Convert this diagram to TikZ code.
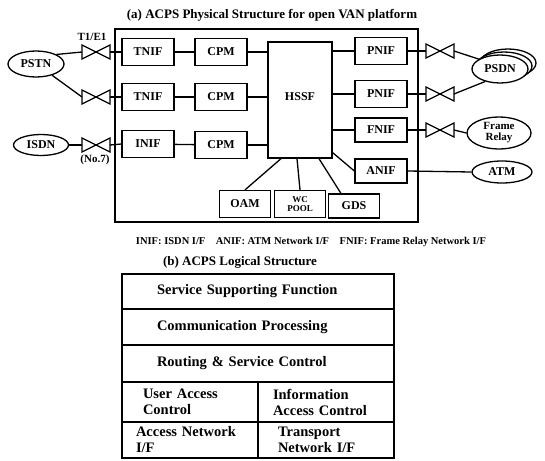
\documentclass[tikz,border=0pt]{standalone}
\usepackage{fontspec}
\setmainfont{Liberation Serif}
\usetikzlibrary{shapes.geometric,calc}
\tikzset{
  valve/.pic={
    \draw[fill=white] (-14,-7) -- (-14,7) -- (0,0) -- cycle;
    \draw[fill=white] (14,-7) -- (14,7) -- (0,0) -- cycle;
    \coordinate (-w) at (-14,0);
    \coordinate (-e) at (14,0);
  }
}
\begin{document}
\begin{tikzpicture}[x=1pt,y=-1pt,line width=1.3pt,
  fbox/.style={draw,fill=white,minimum width=52pt,minimum height=27pt,inner sep=1pt,font=\bfseries\fontsize{12}{13}\selectfont},
  blob/.style={draw,ellipse,fill=white,inner sep=1pt,font=\bfseries\fontsize{12}{12}\selectfont},
  lbl/.style={font=\bfseries\fontsize{11}{12}\selectfont},
  ttl/.style={font=\bfseries\fontsize{13}{14}\selectfont},
  row/.style={draw,minimum width=272pt,text width=202pt,inner xsep=35pt,align=left,font=\bfseries\fontsize{14.5}{16}\selectfont},
  cell/.style={draw,minimum width=136pt,align=left,font=\bfseries\fontsize{14.5}{16}\selectfont}
]
\useasboundingbox (0,0) rectangle (545,460);

% ---------- (a) ----------
\node[ttl] (ta) at (272,15) {(a) ACPS Physical  Structure for open VAN platform};
\draw (115,29) rectangle (418,222);

\node[fbox] (tnif1) at (148,52) {TNIF};
\node[fbox] (cpm1) at (221,52) {CPM};
\node[fbox] (tnif2) at (148,97) {TNIF};
\node[fbox] (cpm2) at (221,97) {CPM};
\node[fbox] (inif) at (148,144) {INIF};
\node[fbox] (cpm3) at (221,145) {CPM};
\node[fbox,minimum width=64pt,minimum height=116pt] (hssf) at (300,100) {\raisebox{6pt}{HSSF}};

\node[fbox] (pnif1) at (381,51) {PNIF};
\node[fbox] (pnif2) at (381,94) {PNIF};
\node[fbox,minimum height=24pt] (fnif) at (381,130) {FNIF};
\node[fbox,minimum height=24pt] (anif) at (381,171) {ANIF};

\node[fbox,minimum width=51pt] (oam) at (245,204) {OAM};
\node[fbox,minimum width=51pt,align=center,font=\bfseries\fontsize{9}{9}\selectfont] (wc) at (300,204) {WC\\POOL};
\node[fbox,minimum width=51pt,minimum height=24pt] (gds) at (354,206) {GDS};

% left side
\node[blob,minimum width=56pt,minimum height=26pt] (pstn) at (36,64) {PSTN};
\node[blob,minimum width=55pt,minimum height=21pt] (isdn) at (41,145) {ISDN};
\pic (lv1) at (96,52) {valve};
\pic (lv2) at (96,97) {valve};
\pic (lv3) at (96,145) {valve};
\node[lbl] (t1e1) at (92,37) {T1/E1};
\node[lbl] (no7) at (95,160) {(No.7)};

% right side
\node[blob,minimum width=56pt,minimum height=28pt] (psdnc) at (508,63) {};
\node[blob,minimum width=56pt,minimum height=28pt] (psdnb) at (504,66) {};
\node[blob,minimum width=56pt,minimum height=28pt] (psdn) at (500,69) {PSDN};
\node[blob,minimum width=64pt,minimum height=31pt,align=center,font=\bfseries\fontsize{11}{11}\selectfont] (fr) at (499,133) {Frame\\Relay};
\node[blob,minimum width=60pt,minimum height=22pt] (atm) at (502,172) {ATM};
\pic (rv1) at (440,51) {valve};
\pic (rv2) at (440,94) {valve};
\pic (rv3) at (440,130) {valve};

% connectors left
\draw (pstn.25) -- (lv1-w);
\draw (pstn.-35) -- (lv2-w);
\draw (isdn.east) -- (lv3-w);
\draw (lv1-e) -- (tnif1.west);
\draw (lv2-e) -- (tnif2.west);
\draw (lv3-e) -- (inif.west);
\draw (tnif1) -- (cpm1);
\draw (tnif2) -- (cpm2);
\draw (inif) -- (cpm3);
\draw (cpm1.east) -- (hssf.west |- cpm1.east);
\draw (cpm2.east) -- (hssf.west |- cpm2.east);
\draw (cpm3.east) -- (hssf.west |- cpm3.east);

% connectors right
\draw (hssf.east |- pnif1.west) -- (pnif1.west);
\draw (hssf.east |- pnif2.west) -- (pnif2.west);
\draw (hssf.east |- fnif.west) -- (fnif.west);
\draw ($(hssf.south east)+(0,-6)$) -- (anif.west);
\draw (pnif1.east) -- (rv1-w);
\draw (pnif2.east) -- (rv2-w);
\draw (fnif.east) -- (rv3-w);
\draw (rv1-e) -- (psdn.155);
\draw (rv2-e) -- (psdn.-140);
\draw (rv3-e) -- (fr.west);
\draw (anif.east) -- (atm.west);

% bottom modules
\draw ($(hssf.south)+(-19,0)$) -- (oam.north);
\draw ($(hssf.south)+(-3,0)$) -- (wc.north);
\draw ($(hssf.south)+(19,0)$) -- ($(gds.north west)!0.25!(gds.north east)$);

\node[font=\bfseries\fontsize{10.5}{12}\selectfont] (legend) at (311,242) {INIF: ISDN I/F\quad ANIF: ATM Network I/F\quad FNIF: Frame Relay Network I/F};

% ---------- (b) ----------
\node[ttl] (tb) at (240,262) {(b) ACPS Logical  Structure};
\node[row,minimum height=35pt] (r1) at (258,291.5) {Service Supporting Function};
\node[row,minimum height=36pt] (r2) at (258,327) {Communication Processing};
\node[row,minimum height=37pt] (r3) at (258,363.5) {Routing \& Service Control};
\node[cell,minimum height=40pt,text width=94pt,inner xsep=21pt] (uac) at (190,402) {User Access\\Control};
\node[cell,minimum height=40pt,text width=106pt,inner xsep=15pt] (iac) at (326,402) {Information\\Access Control};
\node[cell,minimum height=36pt,text width=108pt,inner xsep=14pt] (anf) at (190,440) {Access Network\\I/F};
\node[cell,minimum height=36pt,text width=96pt,inner xsep=20pt] (tnf) at (326,440) {Transport\\Network I/F};
\end{tikzpicture}
\end{document}
